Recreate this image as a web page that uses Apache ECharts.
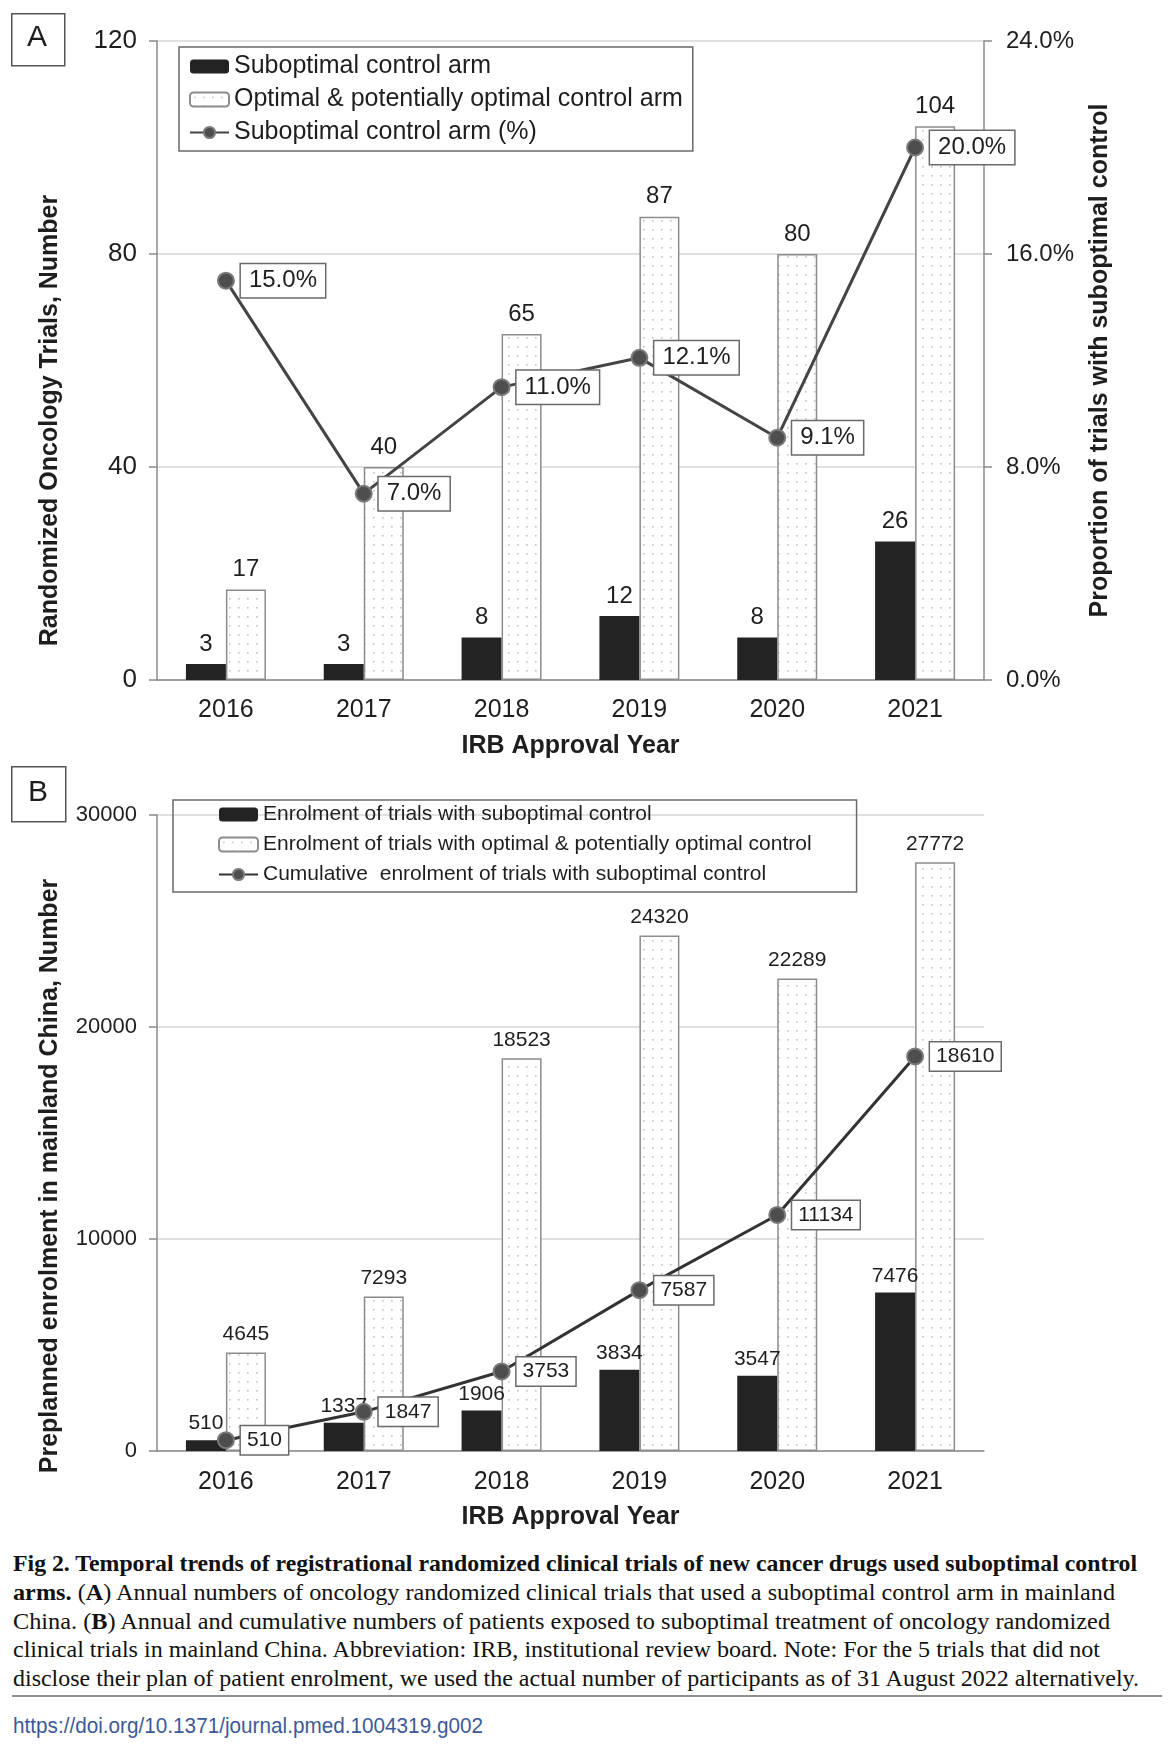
<!DOCTYPE html>
<html>
<head>
<meta charset="utf-8">
<script src="https://cdn.jsdelivr.net/npm/echarts@6/dist/echarts.min.js"></script>
<style>
  html, body { margin: 0; padding: 0; background: #fff; }
  #wrap { position: relative; width: 1170px; height: 1754px; overflow: hidden; }
  #chart { position: absolute; left: 0; top: 0; width: 1170px; height: 1545px; }
  #caption { position: absolute; left: 13px; top: 1550px; font-family: "Liberation Serif", "DejaVu Serif", serif; font-size: 23px; color: #111; }
  #caption .ln { line-height: 28.75px; height: 28.75px; white-space: nowrap; }
  #caption .ln span { display: inline-block; white-space: nowrap; transform-origin: 0 50%; }
  #rule { position: absolute; left: 12px; top: 1695px; width: 1150px; height: 0; border-top: 2px solid #8e8e8e; }
  #doi { position: absolute; left: 13px; top: 1713px; font-family: "Liberation Sans", Arial, sans-serif; font-size: 22px; color: #3d5a98; white-space: nowrap; }
  #doi span { display: inline-block; transform-origin: 0 50%; }
</style>
</head>
<body>
<div id="wrap">
  <div id="chart"></div>
  <div id="caption">
    <div class="ln" data-w="1124"><span><b>Fig 2. Temporal trends of registrational randomized clinical trials of new cancer drugs used suboptimal control</b></span></div>
    <div class="ln" data-w="1102"><span><b>arms.</b> (<b>A</b>) Annual numbers of oncology randomized clinical trials that used a suboptimal control arm in mainland</span></div>
    <div class="ln" data-w="1097"><span>China. (<b>B</b>) Annual and cumulative numbers of patients exposed to suboptimal treatment of oncology randomized</span></div>
    <div class="ln" data-w="1087"><span>clinical trials in mainland China. Abbreviation: IRB, institutional review board. Note: For the 5 trials that did not</span></div>
    <div class="ln" data-w="1126"><span>disclose their plan of patient enrolment, we used the actual number of participants as of 31 August 2022 alternatively.</span></div>
  </div>
  <div id="rule"></div>
  <div id="doi" data-w="470"><span>https://doi.org/10.1371/journal.pmed.1004319.g002</span></div>
</div>
<script>
// ---- data ----
const years = ['2016', '2017', '2018', '2019', '2020', '2021'];
const trialsSuboptimal = [3, 3, 8, 12, 8, 26];
const trialsOptimal = [17, 40, 65, 87, 80, 104];
const trialsSuboptimalPct = [15.0, 7.0, 11.0, 12.1, 9.1, 20.0];
const enrolSuboptimal = [510, 1337, 1906, 3834, 3547, 7476];
const enrolOptimal = [4645, 7293, 18523, 24320, 22289, 27772];
const enrolCumulative = [510, 1847, 3753, 7587, 11134, 18610];
const axisA = { min: 0, max: 120, interval: 40 };
const axisAPct = { min: 0, max: 24, interval: 8 };
const axisB = { min: 0, max: 30000, interval: 10000 };

const namesA = ['Suboptimal control arm', 'Optimal & potentially optimal control arm', 'Suboptimal control arm (%)'];
const namesB = ['Enrolment of trials with suboptimal control', 'Enrolment of trials with optimal & potentially optimal control', 'Cumulative  enrolment of trials with suboptimal control'];

// ---- fit caption lines to their widths ----
function fitLines() {
  document.querySelectorAll('[data-w]').forEach(el => {
    const sp = el.querySelector('span');
    const w = sp.getBoundingClientRect().width;
    const target = parseFloat(el.getAttribute('data-w'));
    if (w > 0) sp.style.transform = 'scaleX(' + (target / w).toFixed(4) + ')';
  });
}
fitLines();

// ---- styles ----
const FONT = '"Liberation Sans", Arial, sans-serif';
const TXT = '#1e1e1e';
const AXIS = '#8a8a8a';
const GRIDC = '#d6d6d6';

function dotPattern() {
  const c = document.createElement('canvas');
  c.width = 9; c.height = 9;
  const g = c.getContext('2d');
  g.fillStyle = '#ffffff'; g.fillRect(0, 0, 9, 9);
  g.fillStyle = '#c2c2c2'; g.fillRect(4, 4, 1.6, 1.6);
  return c;
}
const dots = { image: dotPattern(), repeat: 'repeat' };

function xAx(gi, margin, gap) {
  return {
    gridIndex: gi, type: 'category', data: years,
    axisLine: { lineStyle: { color: AXIS, width: 1.5 } },
    axisTick: { length: 8, lineStyle: { color: AXIS, width: 1.5 } },
    axisLabel: { fontSize: 25, color: TXT, margin: margin, fontFamily: FONT },
    name: 'IRB Approval Year', nameLocation: 'middle', nameGap: gap,
    nameTextStyle: { fontSize: 25, fontWeight: 'bold', color: TXT, fontFamily: FONT }
  };
}
function yAx(gi, rng, fs, extra) {
  return Object.assign({
    gridIndex: gi, type: 'value', min: rng.min, max: rng.max, interval: rng.interval,
    axisLine: { show: true, lineStyle: { color: AXIS, width: 1.5 } },
    axisTick: { show: true, length: 8, lineStyle: { color: AXIS, width: 1.5 } },
    axisLabel: { fontSize: fs, color: TXT, margin: 20, fontFamily: FONT, formatter: v => String(v) },
    splitLine: { show: true, lineStyle: { color: GRIDC, width: 1.5 } }
  }, extra);
}
function lineLabel(fs, fmt, pad) {
  return {
    show: true, position: 'right', distance: 6, formatter: fmt,
    fontSize: fs, color: TXT, fontFamily: FONT,
    backgroundColor: '#fff', borderColor: '#6a6a6a', borderWidth: 1.5,
    padding: pad
  };
}
const markerStyle = { color: '#4e4e4e', borderColor: '#7a7a7a', borderWidth: 2 };

const chart = echarts.init(document.getElementById('chart'), null, { renderer: 'canvas' });
const option = {
  animation: false,
  textStyle: { fontFamily: FONT },
  grid: [
    { left: 157, right: 186, top: 41, height: 639 },
    { left: 157, right: 186, top: 815, height: 636 }
  ],
  legend: [
    {
      data: namesA, orient: 'vertical', left: 179, top: 47,
      itemWidth: 39, itemHeight: 14, itemGap: 8,
      padding: [7, 10, 6, 10], borderColor: '#6a6a6a', borderWidth: 1.5,
      textStyle: { fontSize: 25, color: TXT, fontFamily: FONT, lineHeight: 25 }
    },
    {
      data: namesB, orient: 'vertical', left: 173, top: 800,
      itemWidth: 39, itemHeight: 14, itemGap: 9,
      padding: [4, 45, 7, 45], borderColor: '#6a6a6a', borderWidth: 1.5,
      textStyle: { fontSize: 21, color: TXT, fontFamily: FONT, lineHeight: 21 }
    }
  ],
  xAxis: [xAx(0, 18, 54), xAx(1, 19, 54)],
  yAxis: [
    yAx(0, axisA, 26, {
      name: 'Randomized Oncology Trials, Number', nameLocation: 'middle', nameGap: 94,
      nameTextStyle: { fontSize: 25, fontWeight: 'bold', color: TXT, fontFamily: FONT, padding: [0, 120, 0, 0] }
    }),
    yAx(0, axisAPct, 24, {
      position: 'right', splitLine: { show: false },
      axisLabel: { fontSize: 24, color: TXT, margin: 22, fontFamily: FONT, formatter: v => v.toFixed(1) + '%' },
      name: 'Proportion of trials with suboptimal control', nameLocation: 'middle', nameGap: 104, nameRotate: 90,
      nameTextStyle: { fontSize: 25, fontWeight: 'bold', color: TXT, fontFamily: FONT }
    }),
    yAx(1, axisB, 22, {
      name: 'Preplanned enrolment in mainland China, Number', nameLocation: 'middle', nameGap: 94,
      nameTextStyle: { fontSize: 25, fontWeight: 'bold', color: TXT, fontFamily: FONT, padding: [0, 86, 0, 0] }
    })
  ],
  series: [
    {
      name: namesA[0], type: 'bar', xAxisIndex: 0, yAxisIndex: 0, data: trialsSuboptimal,
      barWidth: 40, barGap: '0%', itemStyle: { color: '#232323' },
      label: { show: true, position: 'top', distance: 8, fontSize: 24, color: TXT }
    },
    {
      name: namesA[1], type: 'bar', xAxisIndex: 0, yAxisIndex: 0, data: trialsOptimal,
      barWidth: 40, barGap: '0%', itemStyle: { color: dots, borderColor: '#8c8c8c', borderWidth: 1.5 },
      label: { show: true, position: 'top', distance: 8, fontSize: 24, color: TXT }
    },
    {
      name: namesA[2], type: 'line', xAxisIndex: 0, yAxisIndex: 1, data: trialsSuboptimalPct,
      symbol: 'circle', symbolSize: 16, z: 5,
      lineStyle: { color: '#444', width: 3 }, itemStyle: markerStyle,
      label: lineLabel(24, p => p.value.toFixed(1) + '%', [5, 8, 4, 8])
    },
    {
      name: namesB[0], type: 'bar', xAxisIndex: 1, yAxisIndex: 2, data: enrolSuboptimal,
      barWidth: 40, barGap: '0%', itemStyle: { color: '#232323' },
      label: { show: true, position: 'top', distance: 6, fontSize: 21, color: TXT }
    },
    {
      name: namesB[1], type: 'bar', xAxisIndex: 1, yAxisIndex: 2, data: enrolOptimal,
      barWidth: 40, barGap: '0%', itemStyle: { color: dots, borderColor: '#8c8c8c', borderWidth: 1.5 },
      label: { show: true, position: 'top', distance: 8, fontSize: 21, color: TXT }
    },
    {
      name: namesB[2], type: 'line', xAxisIndex: 1, yAxisIndex: 2, data: enrolCumulative,
      symbol: 'circle', symbolSize: 16, z: 5,
      lineStyle: { color: '#333', width: 3 }, itemStyle: markerStyle,
      label: lineLabel(21, p => String(p.value), [4, 6, 3, 6])
    }
  ],
  graphic: [
    { type: 'rect', left: 11, top: 13, shape: { width: 53, height: 52 }, style: { fill: '#fff', stroke: '#555', lineWidth: 1.5 } },
    { type: 'text', left: 27, top: 23, style: { text: 'A', fontSize: 30, fill: TXT, fontFamily: FONT } },
    { type: 'rect', left: 11, top: 766, shape: { width: 54, height: 55 }, style: { fill: '#fff', stroke: '#555', lineWidth: 1.5 } },
    { type: 'text', left: 28, top: 778, style: { text: 'B', fontSize: 30, fill: TXT, fontFamily: FONT } }
  ]
};
chart.setOption(option);
</script>
</body>
</html>
